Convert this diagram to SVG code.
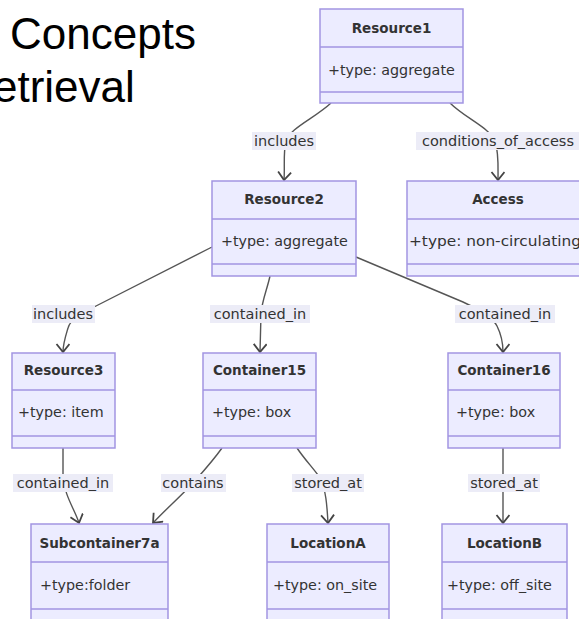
<svg xmlns="http://www.w3.org/2000/svg" width="579" height="619" viewBox="0 0 579 619">
<defs>
<style>
.box{fill:#ECECFF;stroke:#a295e2;stroke-width:1.5}
.div{stroke:#a295e2;stroke-width:1.5}
.ttl{font-family:"DejaVu Sans",Verdana,sans-serif;font-size:13.5px;font-weight:bold;fill:#333;text-anchor:middle}
.mem{font-family:"DejaVu Sans",Verdana,sans-serif;font-size:14.3px;fill:#333}
.edge{fill:none;stroke:#555;stroke-width:1.4;marker-end:url(#arr)}
.lbg{fill:#ececf7}
.lbl{font-family:"DejaVu Sans",Verdana,sans-serif;font-size:14.5px;fill:#333;text-anchor:middle}
.big{font-family:"Liberation Sans",Arial,sans-serif;font-size:44px;fill:#000}
</style>
<marker id="arr" markerWidth="16" markerHeight="16" refX="9" refY="7" orient="auto" markerUnits="userSpaceOnUse">
<path d="M1,0.5 L9,7 L1,13.5" fill="none" stroke="#444" stroke-width="1.8"/>
</marker>
</defs>
<rect width="579" height="619" fill="#fff"/>
<text class="big" x="10" y="49">Concepts</text>
<text class="big" x="-7" y="102">etrieval</text>

<g id="connectors">
<path class="edge" d="M331,103 C315,118 290,128 286,141 C283,153 285,167 284,180"/>
<path class="edge" d="M450,103 C465,118 490,128 495,141 C499,153 498,167 498,180"/>
<path class="edge" d="M212,247 L96,306 C80,314 70,320 68,328 C65,338 63,344 63,352"/>
<path class="edge" d="M270,276 C267,290 262,300 261,314 L260,352"/>
<path class="edge" d="M356,257 L463,302 C480,310 493,318 497,326 C501,334 503,342 503,352"/>
<path class="edge" d="M63,448 L63,476 C64,495 75,510 79,523"/>
<path class="edge" d="M222,448 C212,462 200,475 193,483 C180,497 165,510 153,523"/>
<path class="edge" d="M297,448 C305,460 315,470 320,478 C326,490 327,505 328,523"/>
<path class="edge" d="M503,448 L503,523"/>

<rect class="lbg" x="252" y="132" width="64" height="18"/>
<text class="lbl" x="284" y="146">includes</text>
<rect class="lbg" x="416" y="132" width="163" height="18"/>
<text class="lbl" x="498" y="146">conditions_of_access</text>
<rect class="lbg" x="32" y="305" width="63" height="18"/>
<text class="lbl" x="63" y="319">includes</text>
<rect class="lbg" x="210" y="305" width="100" height="18"/>
<text class="lbl" x="260" y="319">contained_in</text>
<rect class="lbg" x="455" y="305" width="100" height="18"/>
<text class="lbl" x="505" y="319">contained_in</text>
<rect class="lbg" x="13" y="474" width="100" height="18"/>
<text class="lbl" x="63" y="488">contained_in</text>
<rect class="lbg" x="161" y="474" width="65" height="18"/>
<text class="lbl" x="193" y="488">contains</text>
<rect class="lbg" x="292" y="474" width="72" height="18"/>
<text class="lbl" x="328" y="488">stored_at</text>
<rect class="lbg" x="468" y="474" width="72" height="18"/>
<text class="lbl" x="504" y="488">stored_at</text>
</g>

<g id="Resource1">
<rect class="box" x="320" y="9" width="143" height="94"/>
<line class="div" x1="320" y1="47" x2="463" y2="47"/>
<line class="div" x1="320" y1="92" x2="463" y2="92"/>
<text class="ttl" x="391.5" y="33">Resource1</text>
<text class="mem" x="328" y="75">+type: aggregate</text>
</g>
<g id="Resource2">
<rect class="box" x="212" y="181" width="144" height="95"/>
<line class="div" x1="212" y1="219" x2="356" y2="219"/>
<line class="div" x1="212" y1="264" x2="356" y2="264"/>
<text class="ttl" x="284" y="204">Resource2</text>
<text class="mem" x="221" y="246">+type: aggregate</text>
</g>
<g id="Access">
<rect class="box" x="407" y="181" width="182" height="95"/>
<line class="div" x1="407" y1="219" x2="589" y2="219"/>
<line class="div" x1="407" y1="264" x2="589" y2="264"/>
<text class="ttl" x="498" y="204">Access</text>
<text class="mem" x="409" y="246" textLength="172" lengthAdjust="spacingAndGlyphs">+type: non-circulating</text>
</g>
<g id="Resource3">
<rect class="box" x="12" y="353" width="103" height="95"/>
<line class="div" x1="12" y1="390" x2="115" y2="390"/>
<line class="div" x1="12" y1="436" x2="115" y2="436"/>
<text class="ttl" x="63.5" y="375">Resource3</text>
<text class="mem" x="18" y="417">+type: item</text>
</g>
<g id="Container15">
<rect class="box" x="203" y="353" width="113" height="95"/>
<line class="div" x1="203" y1="390" x2="316" y2="390"/>
<line class="div" x1="203" y1="436" x2="316" y2="436"/>
<text class="ttl" x="259.5" y="375">Container15</text>
<text class="mem" x="212" y="417">+type: box</text>
</g>
<g id="Container16">
<rect class="box" x="448" y="353" width="112" height="95"/>
<line class="div" x1="448" y1="390" x2="560" y2="390"/>
<line class="div" x1="448" y1="436" x2="560" y2="436"/>
<text class="ttl" x="504" y="375">Container16</text>
<text class="mem" x="456" y="417">+type: box</text>
</g>
<g id="Subcontainer7a">
<rect class="box" x="31" y="524" width="137" height="98"/>
<line class="div" x1="31" y1="562" x2="168" y2="562"/>
<line class="div" x1="31" y1="609" x2="168" y2="609"/>
<text class="ttl" x="99.5" y="548">Subcontainer7a</text>
<text class="mem" x="40" y="590">+type:folder</text>
</g>
<g id="LocationA">
<rect class="box" x="267" y="524" width="122" height="98"/>
<line class="div" x1="267" y1="562" x2="389" y2="562"/>
<line class="div" x1="267" y1="609" x2="389" y2="609"/>
<text class="ttl" x="328" y="548">LocationA</text>
<text class="mem" x="273" y="590">+type: on_site</text>
</g>
<g id="LocationB">
<rect class="box" x="442" y="524" width="125" height="98"/>
<line class="div" x1="442" y1="562" x2="567" y2="562"/>
<line class="div" x1="442" y1="609" x2="567" y2="609"/>
<text class="ttl" x="504.5" y="548">LocationB</text>
<text class="mem" x="447" y="590">+type: off_site</text>
</g>
</svg>
